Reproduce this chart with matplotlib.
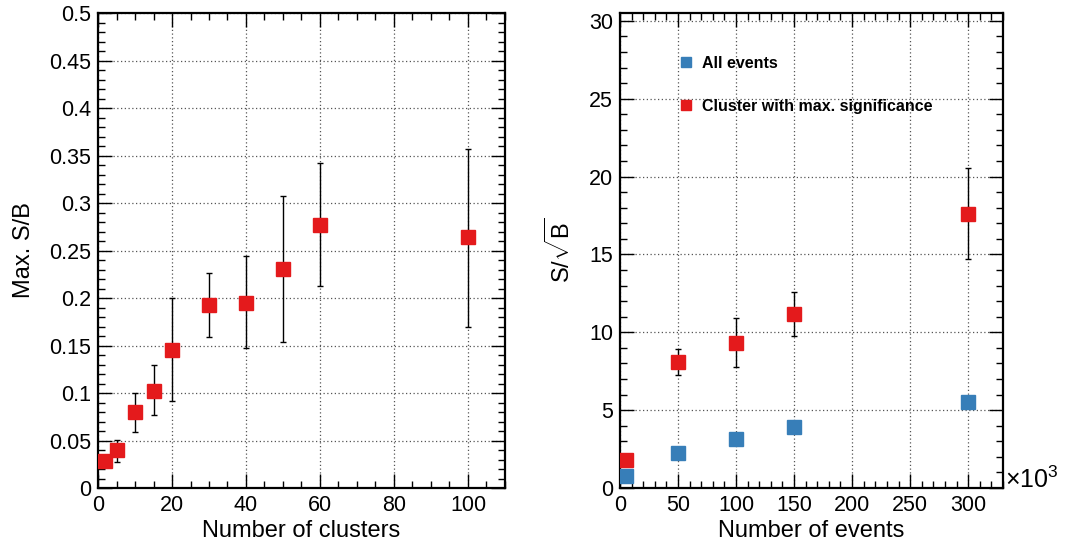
import matplotlib
matplotlib.use("Agg")
import matplotlib.pyplot as plt
from matplotlib.ticker import MultipleLocator, FormatStrFormatter
from matplotlib.lines import Line2D

plt.rcParams['font.family'] = ['Liberation Sans', 'DejaVu Sans']
plt.rcParams['mathtext.fontset'] = 'custom'
plt.rcParams['mathtext.rm'] = 'Liberation Sans'
plt.rcParams['mathtext.it'] = 'Liberation Sans:italic'

# left panel: max S/B vs number of clusters
n_clusters = [2, 5, 10, 15, 20, 30, 40, 50, 60, 100]
max_sb = [0.028, 0.040, 0.0795, 0.1026, 0.1454, 0.1923, 0.1949, 0.2308, 0.2773, 0.2637]
sb_err_lo = [0.0, 0.0125, 0.021, 0.026, 0.054, 0.033, 0.048, 0.077, 0.065, 0.094]
sb_err_hi = [0.0, 0.011, 0.0205, 0.0264, 0.0542, 0.0337, 0.0494, 0.0769, 0.0652, 0.0933]

# right panel: significance vs number of events (x10^3)
n_events = [5, 50, 100, 150, 300]
sig_all = [0.78, 2.28, 3.17, 3.90, 5.51]
sig_cluster = [1.83, 8.07, 9.32, 11.15, 17.62]
sig_err_lo = [0.33, 0.82, 1.56, 1.40, 2.90]
sig_err_hi = [0.33, 0.85, 1.57, 1.45, 2.95]

red = '#e41a1c'
blue = '#377eb8'

fig = plt.figure(figsize=(10.89, 5.44), dpi=100)
ax1 = fig.add_axes([0.0900, 0.1029, 0.3737, 0.8732])
ax2 = fig.add_axes([0.5693, 0.1029, 0.3517, 0.8732])


def style_axis(ax):
    for s in ax.spines.values():
        s.set_linewidth(1.6)
    ax.tick_params(which='both', direction='in', top=True, right=True,
                   labelsize=15.5, width=1.0, pad=5)
    ax.tick_params(which='major', length=10)
    ax.tick_params(which='minor', length=5)
    ax.grid(True, which='major', linestyle=(0, (1, 2)), color='#555555', linewidth=0.9)
    ax.set_axisbelow(True)


ax1.errorbar(n_clusters, max_sb, yerr=[sb_err_lo, sb_err_hi], fmt='s', color=red,
             ecolor='black', elinewidth=1.0, capsize=2, capthick=1.0,
             markersize=9.5, zorder=3)
ax1.set_xlim(0, 110)
ax1.set_ylim(0, 0.5)
ax1.xaxis.set_major_locator(MultipleLocator(20))
ax1.xaxis.set_minor_locator(MultipleLocator(5))
ax1.yaxis.set_major_locator(MultipleLocator(0.05))
ax1.yaxis.set_minor_locator(MultipleLocator(0.01))
ax1.yaxis.set_major_formatter(FormatStrFormatter('%g'))
style_axis(ax1)
ax1.set_xlabel('Number of clusters', fontsize=17, labelpad=3)
ax1.set_ylabel('Max. S/B', fontsize=17, labelpad=10)

ax2.plot(n_events, sig_all, 's', color=blue, markersize=9.5, zorder=3)
ax2.errorbar(n_events, sig_cluster, yerr=[sig_err_lo, sig_err_hi], fmt='s', color=red,
             ecolor='black', elinewidth=1.0, capsize=2, capthick=1.0,
             markersize=9.5, zorder=3)
ax2.set_xlim(0, 330)
ax2.set_ylim(0, 30.5)
ax2.xaxis.set_major_locator(MultipleLocator(50))
ax2.xaxis.set_minor_locator(MultipleLocator(10))
ax2.yaxis.set_major_locator(MultipleLocator(5))
ax2.yaxis.set_minor_locator(MultipleLocator(1))
style_axis(ax2)
ax2.set_xlabel('Number of events', fontsize=17, labelpad=3)
ax2.set_ylabel(r'S/$\sqrt{\mathrm{B}}$', fontsize=17, labelpad=10)
ax2.text(1.004, 0.018, r'$\times$10$^{3}$', transform=ax2.transAxes,
         fontsize=18, ha='left', va='center')

handles = [Line2D([], [], marker='s', linestyle='none', color=blue, markersize=7.5),
           Line2D([], [], marker='s', linestyle='none', color=red, markersize=7.5)]
ax2.legend(handles, ['All events', 'Cluster with max. significance'],
           loc='upper left', bbox_to_anchor=(0.11, 0.94), frameon=False,
           prop={'weight': 'bold', 'size': 11.5}, handletextpad=0.4,
           handlelength=1.2, labelspacing=1.75)

fig.savefig('out.png', dpi=100)
